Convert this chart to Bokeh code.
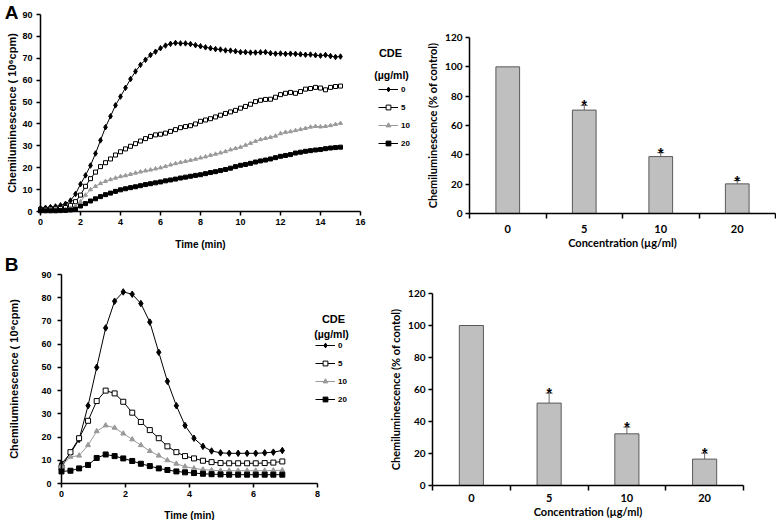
from bokeh.plotting import figure
from bokeh.layouts import column, row
from bokeh.models import (Range1d, FixedTicker, Legend, LegendItem, Label,
                          Whisker, TeeHead, ColumnDataSource)
from bokeh.core.properties import value
from bokeh.embed import file_html
from bokeh.resources import INLINE

# ---------------- data ----------------
doses = ["0", "5", "10", "20"]

time_a = [0, 0.25, 0.5, 0.75, 1, 1.25, 1.5, 1.75, 2, 2.25,
          2.5, 2.75, 3, 3.25, 3.5, 3.75, 4, 4.25, 4.5, 4.75,
          5, 5.25, 5.5, 5.75, 6, 6.25, 6.5, 6.75, 7, 7.25,
          7.5, 7.75, 8, 8.25, 8.5, 8.75, 9, 9.25, 9.5, 9.75,
          10, 10.25, 10.5, 10.75, 11, 11.25, 11.5, 11.75, 12, 12.25,
          12.5, 12.75, 13, 13.25, 13.5, 13.75, 14, 14.25, 14.5, 14.75,
          15]
cl_a_0 = [1.5, 1.7, 2.0, 2.3, 2.8, 3.5, 5.0, 8.0, 12.5, 16.5,
          21.0, 26.5, 32.5, 38.5, 43.5, 48.5, 52.5, 56.5, 60.5, 64.0,
          67.0, 69.3, 71.5, 73.0, 74.6, 75.8, 76.6, 77.0, 76.8, 76.8,
          76.5, 76.0, 75.5, 75.0, 74.6, 74.2, 74.0, 73.6, 73.5, 73.2,
          72.8, 72.8, 72.6, 72.6, 72.7, 72.8, 72.3, 72.1, 72.2, 72.0,
          72.1, 72.0, 71.8, 71.6, 71.7, 71.4, 71.2, 71.5, 71.0, 70.6,
          70.8]
cl_a_5 = [1.0, 1.0, 1.1, 1.2, 1.4, 1.8, 2.8, 4.5, 7.5, 11.5,
          15.0, 18.0, 20.5, 22.3, 24.0, 25.8, 27.3, 28.6, 29.8, 31.0,
          32.2, 33.3, 34.3, 35.0, 35.3, 35.8, 36.6, 37.4, 38.3, 38.8,
          39.2, 40.0, 41.2, 41.8, 42.4, 43.2, 44.0, 44.8, 45.5, 46.2,
          47.2, 48.0, 49.0, 50.2, 50.8, 51.2, 51.3, 52.2, 53.4, 54.0,
          54.4, 54.0, 54.8, 55.9, 56.2, 56.7, 56.4, 55.6, 56.7, 57.1,
          57.3]
cl_a_10 = [0.5, 0.5, 0.5, 0.6, 0.7, 0.9, 1.5, 2.5, 4.5, 7.5,
           10.0, 11.5, 12.8, 13.8, 14.6, 15.3, 16.0, 16.4, 17.0, 17.6,
           18.1, 18.6, 19.0, 19.5, 20.0, 20.6, 21.3, 21.9, 22.4, 22.9,
           23.4, 23.9, 24.5, 25.0, 25.7, 26.2, 26.8, 27.4, 28.2, 28.8,
           29.4, 30.3, 31.2, 32.1, 32.9, 33.4, 33.9, 34.5, 35.6, 36.2,
           36.5, 37.0, 37.5, 38.0, 38.6, 38.9, 38.7, 38.9, 39.3, 39.8,
           40.3]
cl_a_20 = [0.3, 0.3, 0.3, 0.3, 0.4, 0.5, 0.7, 1.0, 2.5, 3.6,
           4.8, 5.8, 6.8, 7.7, 8.4, 9.2, 9.9, 10.4, 10.9, 11.3,
           11.8, 12.3, 12.7, 13.1, 13.5, 14.0, 14.4, 14.8, 15.3, 15.7,
           16.1, 16.5, 16.8, 17.3, 17.8, 18.2, 18.7, 19.2, 19.8, 20.5,
           21.1, 21.5, 22.0, 22.6, 23.1, 23.5, 24.0, 24.6, 25.2, 25.6,
           26.0, 26.7, 27.1, 27.5, 27.8, 28.1, 28.3, 28.7, 29.0, 29.2,
           29.4]

time_b = [0, 0.28, 0.55, 0.83, 1.10, 1.38, 1.66, 1.93, 2.21, 2.48,
          2.76, 3.04, 3.31, 3.59, 3.86, 4.14, 4.42, 4.69, 4.97, 5.24,
          5.52, 5.80, 6.07, 6.35, 6.62, 6.90]
cl_b_0 = [8.5, 13, 19, 33.5, 50, 67, 78.5, 82.5, 81.5, 77.5,
          69.5, 56.5, 44, 33.5, 25, 19.5, 16, 14, 13.2, 13,
          13, 13, 13, 13.2, 13.5, 14.2]
cl_b_5 = [7, 13.5, 19.5, 27, 35.5, 40, 38.8, 35.2, 30.5, 26.5,
          23, 19.5, 16, 13.5, 11.8, 10.8, 9.8, 9.2, 8.8, 8.7,
          8.7, 8.7, 8.7, 8.8, 9, 9.5]
cl_b_10 = [7.5, 11.5, 12, 16.5, 22.5, 25, 24, 21.5, 19, 16.5,
           14, 12, 10, 8.5, 7.3, 6.5, 6, 5.7, 5.5, 5.5,
           5.5, 5.5, 5.5, 5.5, 5.6, 5.7]
cl_b_20 = [5.2, 5.5, 6.5, 8, 11, 12.5, 11.8, 10.8, 9.7, 8.5,
           7.5, 6.5, 5.8, 5.2, 4.8, 4.5, 4.2, 4, 3.9, 3.8,
           3.8, 3.8, 3.8, 3.8, 3.8, 3.8]

bar_a = [100, 70.5, 38.8, 20.2]
err_a = [0, 3.2, 2.7, 2.3]
bar_b = [100, 51.5, 32.3, 16.5]
err_b = [0, 6.2, 4.2, 3.7]
significant = [False, True, True, True]

yticks_line = [0, 10, 20, 30, 40, 50, 60, 70, 80, 90]
yticks_bar = [0, 20, 40, 60, 80, 100, 120]

# ---------------- styles ----------------
ARIAL = "Liberation Sans"
CALIBRI = "Lato"
markers = ["diamond", "square", "triangle", "square"]
fills = ["black", "white", "#9a9a9a", "black"]
lcols = ["black", "black", "#9a9a9a", "black"]


def span_range(fig_lo, fig_hi, v0, px0, v1, px1):
    """Range whose figure edges (page px) make value v0 land at px0 and v1 at px1."""
    scale = (px1 - px0) / (v1 - v0)
    a = v0 + (fig_lo - px0) / scale
    b = v0 + (fig_hi - px0) / scale
    return Range1d(min(a, b), max(a, b))


def base_figure(box, xmap, ymap):
    x0, y0, w, h = box
    p = figure(width=w, height=h,
               x_range=span_range(x0, x0 + w, *xmap),
               y_range=span_range(y0, y0 + h, *ymap),
               output_backend="svg", toolbar_location=None, title=None,
               min_border_left=0, min_border_right=0, min_border_top=0, min_border_bottom=0)
    p.background_fill_color = "white"
    p.border_fill_color = "white"
    p.xgrid.visible = False
    p.ygrid.visible = False
    p.outline_line_color = None
    p.xaxis.fixed_location = 0
    p.yaxis.fixed_location = 0
    return p


def style_axes(p, font, tick_size, xlabel_size, ylabel_size):
    for ax in (p.xaxis[0], p.yaxis[0]):
        ax.axis_line_width = 1.5
        ax.axis_line_color = "black"
        ax.major_tick_line_width = 1.5
        ax.major_tick_line_color = "black"
        ax.major_tick_in = 0
        ax.major_tick_out = 4
        ax.minor_tick_line_color = None
        ax.major_label_text_font = font
        ax.major_label_text_font_style = "bold"
        ax.major_label_text_font_size = tick_size
        ax.major_label_text_color = "black"
        ax.axis_label_text_font = font
        ax.axis_label_text_font_style = "bold"
        ax.axis_label_text_color = "black"
    p.xaxis[0].axis_label_text_font_size = xlabel_size
    p.yaxis[0].axis_label_text_font_size = ylabel_size


def screen_label(p, box, px, py, text, size, font):
    x0, y0, w, h = box
    p.add_layout(Label(x=px - x0, y=y0 + h - py, x_units="screen", y_units="screen",
                       text=text, text_font=font, text_font_style="bold",
                       text_font_size=size, text_align="center",
                       text_baseline="middle", text_color="black"))


def line_panel(box, xmap, ymap, x_axis_max, xticks, times, series, msize,
               leg_px, title_px, letter, letter_px, ytick_standoff, ylab_standoff,
               xlab_standoff):
    x0, y0, w, h = box
    p = base_figure(box, xmap, ymap)
    style_axes(p, ARIAL, "9px", "10px", "11px")
    p.xaxis.ticker = FixedTicker(ticks=xticks)
    p.yaxis.ticker = FixedTicker(ticks=yticks_line)
    p.xaxis.bounds = (0, x_axis_max)
    p.yaxis.bounds = (0, 90)
    p.xaxis.axis_label = "Time (min)"
    p.yaxis.axis_label = "Chemiluminescence ( 10\u2076cpm)"
    p.xaxis.major_label_standoff = 3
    p.xaxis.axis_label_standoff = xlab_standoff
    p.yaxis.major_label_standoff = ytick_standoff
    p.yaxis.axis_label_standoff = ylab_standoff
    items = []
    for lab, ys, mk, fc, lc in zip(doses, series, markers, fills, lcols):
        lr = p.line(times, ys, line_color=lc, line_width=1)
        sr = p.scatter(times, ys, marker=mk, size=msize + (1.5 if mk == "diamond" else 0),
                       fill_color=fc, line_color=lc, line_width=1)
        items.append(LegendItem(label=lab, renderers=[lr, sr]))
    # legend: left x and top y of the legend block in page px
    lx, ltop = leg_px
    n = len(doses)
    box_h = n * 12 + (n - 1) * 6
    leg = Legend(items=items, location=(lx - x0, y0 + h - (ltop + box_h)),
                 orientation="vertical", border_line_color=None,
                 background_fill_alpha=0, padding=0, margin=0,
                 spacing=6, glyph_height=12, glyph_width=20, label_height=12,
                 label_standoff=3, label_text_font=ARIAL, label_text_font_style="bold",
                 label_text_font_size="8px", label_text_color="black")
    p.add_layout(leg)
    (cx1, cy1), (cx2, cy2) = title_px
    screen_label(p, box, cx1, cy1, "CDE", "11px", ARIAL)
    screen_label(p, box, cx2, cy2, "(\u00b5g/ml)", "10.5px", ARIAL)
    screen_label(p, box, letter_px[0], letter_px[1], letter, "19px", ARIAL)
    return p


def bar_panel(box, xmap, ymap, bars, errs, ylabel, tick_standoff):
    p = base_figure(box, xmap, ymap)
    style_axes(p, CALIBRI, "10px", "11px", "11px")
    xs = [i + 0.5 for i in range(len(doses))]
    p.vbar(x=xs, top=bars, width=0.31, fill_color="#bfbfbf", line_color="#5a5a5a",
           line_width=1)
    sel = [i for i, s in enumerate(significant) if s]
    src = ColumnDataSource(dict(x=[xs[i] for i in sel],
                                lower=[bars[i] for i in sel],
                                upper=[bars[i] + errs[i] for i in sel],
                                star=["*" for _ in sel]))
    p.add_layout(Whisker(source=src, base="x", lower="lower", upper="upper",
                         line_color="#6a6a6a", line_width=1, lower_head=None,
                         upper_head=TeeHead(size=7, line_color="#6a6a6a", line_width=1)))
    p.text(x="x", y="upper", text="star", source=src, text_align="center",
           text_baseline="alphabetic", text_font=value(ARIAL), text_font_style="bold",
           text_font_size="14px", text_color="black")
    p.yaxis.ticker = FixedTicker(ticks=yticks_bar)
    p.yaxis.bounds = (0, 120)
    p.xaxis.bounds = (0, len(doses))
    p.xaxis.ticker = FixedTicker(ticks=xs, minor_ticks=list(range(len(doses) + 1)))
    p.xaxis.major_label_overrides = {x: d for x, d in zip(xs, doses)}
    p.xaxis.major_tick_out = 0
    p.xaxis.minor_tick_line_color = "black"
    p.xaxis.minor_tick_line_width = 1.5
    p.xaxis.minor_tick_in = 0
    p.xaxis.minor_tick_out = 5
    p.xaxis.major_label_text_font_size = "11px"
    p.xaxis.major_label_standoff = tick_standoff
    p.xaxis.axis_label_standoff = 0
    p.xaxis.axis_label = "Concentration (\u00b5g/ml)"
    p.yaxis.axis_label = ylabel
    p.yaxis.major_label_standoff = 3
    p.yaxis.axis_label_standoff = 3
    return p


# page boxes (x, y, width, height) of the four figures
box_pa = (0, 0, 424, 250)
box_ba = (424, 0, 352, 250)
box_pb = (0, 250, 385, 270)
box_bb = (385, 250, 391, 270)

pA = line_panel(box_pa, (0, 40, 16, 360), (0, 211, 90, 14), 16, list(range(0, 17, 2)),
                time_a, [cl_a_0, cl_a_5, cl_a_10, cl_a_20], 4,
                (378, 83), ((390, 52), (391, 74)), "A", (11, 12), 4, 1, 11)
bA = bar_panel(box_ba, (0, 469, 4, 775), (0, 213, 120, 37), bar_a, err_a,
               "Chemiluminescence (% of control)", 6)
pB = line_panel(box_pb, (0, 61, 8, 317), (0, 483, 90, 274), 8, list(range(0, 9, 2)),
                time_b, [cl_b_0, cl_b_5, cl_b_10, cl_b_20], 5,
                (315, 339), ((333, 318), (331, 333)), "B", (11, 264), 6, 18, 10)
bB = bar_panel(box_bb, (0, 432, 4, 743), (0, 485, 120, 293), bar_b, err_b,
               "Chemiluminescence (% of contol)", 3)

layout = column(row(pA, bA), row(pB, bB))
open("out.html", "w").write(file_html(layout, INLINE))
